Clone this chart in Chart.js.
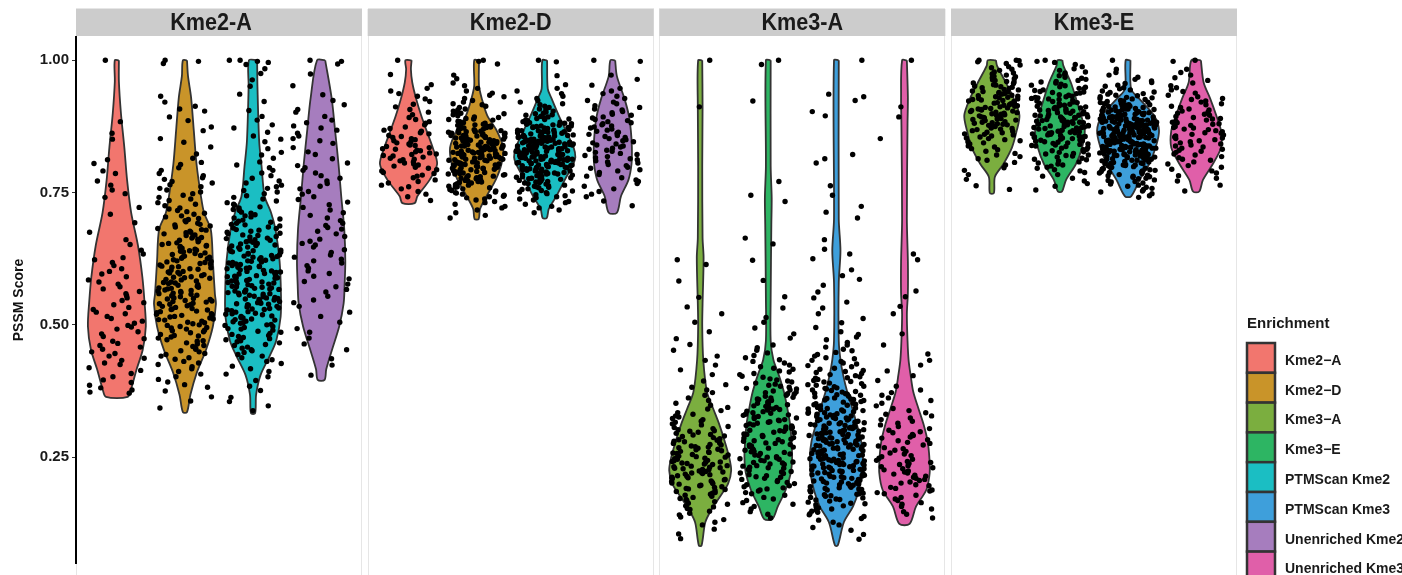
<!DOCTYPE html>
<html>
<head>
<meta charset="utf-8">
<title>PSSM Score by enrichment</title>
<script src="https://cdn.jsdelivr.net/npm/chart.js@4.4.1/dist/chart.umd.min.js"></script>
<style>
  html, body { margin: 0; padding: 0; background: #fff; overflow: hidden; }
  #wrap { width: 1402px; height: 575px; position: relative; }
</style>
</head>
<body>
<div id="wrap"><canvas id="violinChart"></canvas></div>
<script>
// facet panels (PSSM motif) and the enrichment groups shown in each
const panels = ['Kme2-A', 'Kme2-D', 'Kme3-A', 'Kme3-E'];
const enrichment = ['Kme2\u2212A', 'Kme2\u2212D', 'Kme3\u2212A', 'Kme3\u2212E', 'PTMScan Kme2', 'PTMScan Kme3', 'Unenriched Kme2', 'Unenriched Kme3'];
const panelGroups = [[0, 1, 4, 6], [0, 1, 4, 6], [2, 3, 5, 7], [2, 3, 5, 7]];
const yTicks = [0.25, 0.5, 0.75, 1.0];
const yTickLabels = ['0.25', '0.50', '0.75', '1.00'];
const groupColors = ['#F2766E', '#C99429', '#7BAE3F', '#2DB563', '#1BBEC3', '#3E9FDB', '#A67DBE', '#E05FA9'];

// violin outlines: [score, half width in category units]
const d1_kme2A = [[1.00,.03],[.96,.03],[.90,.06],[.835,.11],[.774,.15],[.712,.21],[.65,.31],[.59,.375],[.545,.405],[.497,.425],[.453,.38],[.416,.29],[.379,.21],[.364,.16]];
const d1_kme2D = [[1.00,.03],[.97,.045],[.93,.09],[.867,.13],[.804,.17],[.743,.235],[.712,.28],[.68,.38],[.62,.41],[.558,.44],[.54,.455],[.497,.41],[.453,.31],[.41,.175],[.368,.08],[.335,.03]];
const d1_ptm = [[1.00,.06],[.95,.065],[.847,.09],[.80,.125],[.743,.17],[.712,.265],[.68,.33],[.62,.39],[.558,.41],[.515,.405],[.47,.34],[.44,.24],[.405,.11],[.368,.045],[.333,.03]];
const d1_unenr = [[1.00,.06],[.928,.155],[.867,.205],[.804,.255],[.743,.295],[.68,.34],[.62,.355],[.577,.345],[.54,.33],[.497,.265],[.453,.16],[.416,.075],[.396,.05]];

const d2_kme2A = [[1.00,.045],[.983,.035],[.958,.055],[.928,.11],[.896,.185],[.867,.265],[.835,.355],[.804,.42],[.774,.31],[.743,.13],[.73,.09]];
const d2_kme2D = [[1.00,.035],[.952,.035],[.928,.075],[.896,.155],[.867,.295],[.835,.39],[.804,.365],[.774,.28],[.743,.145],[.719,.05],[.70,.03]];
const d2_ptm = [[1.00,.035],[.946,.045],[.928,.10],[.896,.205],[.867,.31],[.835,.425],[.817,.45],[.804,.42],[.774,.295],[.743,.17],[.719,.06],[.702,.03]];
const d2_unenr = [[1.00,.035],[.97,.06],[.928,.17],[.896,.235],[.867,.265],[.835,.28],[.804,.275],[.774,.23],[.743,.12],[.712,.06]];

const d3_kme3A = [[1.00,.03],[.91,.035],[.80,.03],[.664,.035],[.627,.05],[.54,.035],[.497,.03],[.434,.045],[.373,.10],[.342,.19],[.312,.28],[.28,.36],[.25,.425],[.225,.455],[.20,.41],[.176,.295],[.152,.17],[.127,.075],[.083,.02]];
const d3_kme3E = [[1.00,.035],[.80,.035],[.74,.05],[.69,.045],[.55,.035],[.47,.035],[.434,.075],[.405,.155],[.373,.23],[.342,.28],[.312,.32],[.28,.34],[.25,.35],[.22,.33],[.188,.255],[.157,.14],[.133,.06]];
const d3_ptm = [[1.00,.035],[.70,.035],[.64,.06],[.58,.035],[.47,.035],[.434,.06],[.405,.10],[.373,.16],[.342,.235],[.312,.30],[.28,.365],[.25,.39],[.22,.38],[.188,.33],[.157,.245],[.127,.11],[.083,.02]];
const d3_unenr = [[1.00,.035],[.93,.05],[.88,.045],[.70,.035],[.62,.05],[.56,.05],[.52,.035],[.47,.045],[.434,.06],[.405,.09],[.373,.13],[.342,.205],[.312,.28],[.28,.34],[.25,.365],[.22,.37],[.188,.32],[.157,.17],[.124,.075]];

const d4_kme3A = [[1.00,.06],[.99,.075],[.958,.205],[.928,.32],[.896,.405],[.867,.365],[.835,.295],[.804,.17],[.78,.045],[.749,.03]];
const d4_kme3E = [[1.00,.035],[.99,.05],[.958,.16],[.928,.235],[.896,.31],[.867,.365],[.835,.325],[.804,.235],[.774,.09],[.752,.03]];
const d4_ptm = [[1.00,.035],[.946,.045],[.928,.16],[.896,.38],[.867,.455],[.835,.405],[.804,.31],[.774,.17],[.743,.045]];
const d4_unenr = [[1.00,.07],[.958,.11],[.928,.205],[.896,.295],[.867,.365],[.835,.365],[.804,.245],[.774,.10],[.752,.045]];

// individual peptide scores (score x 1000)
const p1_kme2A = [1000,884,862,851,812,805,791,786,772,764,755,748,741,722,709,693,675,661,652,641,634,627,623,618,612,606,601,596,591,585,581,577,572,568,563,559,555,551,546,542,538,533,529,524,521,516,512,507,503,499,496,492,487,483,478,474,469,465,461,458,454,449,446,441,437,433,428,425,419,414,408,402,396,391,386,381,377,373,371];
const p1_kme2D = [1000,998,994,932,921,913,904,908,893,886,874,867,852,845,836,823,815,803,807,
  792,797,782,786,771,775,778,761,765,768,751,755,758,741,745,748,731,735,738,721,725,728,711,714,716,719,701,704,706,709,
  690,692,695,697,699,680,682,685,687,689,670,672,674,675,677,679,660,662,664,665,667,669,650,652,654,655,657,659,
  640,641,643,645,646,648,649,630,631,633,635,636,638,639,620,621,623,625,626,628,629,610,611,613,615,616,618,619,600,601,603,605,606,608,609,
  590,591,593,595,596,598,599,580,581,583,585,586,588,589,570,571,573,575,576,578,579,560,561,563,564,565,566,568,569,550,551,553,554,555,556,558,559,540,541,543,544,545,546,548,549,
  530,531,533,535,536,538,539,520,521,523,525,526,528,529,510,511,513,515,516,518,519,500,502,504,505,507,509,
  490,492,494,495,497,499,480,482,485,487,489,470,472,475,477,479,461,464,466,469,451,454,456,459,441,444,446,449,431,435,438,421,425,428,412,417,402,407,
  392,397,382,387,375,364,356,343];
const p1_ptm = [1000,1000,998,996,992,984,975,963,951,936,922,905,894,887,872,878,864,851,857,846,833,821,826,815,802,808,
  792,797,782,787,772,777,761,764,768,751,754,758,741,744,748,731,734,738,721,723,726,728,711,713,716,718,700,702,704,706,708,
  690,692,694,696,698,680,682,683,685,687,689,670,672,673,675,677,679,660,661,663,664,666,667,669,650,651,653,654,656,657,659,640,641,643,644,646,647,649,
  630,631,632,634,635,637,638,639,620,621,622,624,625,627,628,629,610,611,612,614,615,617,618,619,600,601,602,603,604,606,607,608,609,
  590,591,592,593,594,596,597,598,599,580,581,582,583,584,586,587,588,589,570,571,572,573,574,576,577,578,579,560,561,562,563,564,566,567,568,569,550,551,552,553,554,556,557,558,559,
  540,541,542,544,545,547,548,549,530,531,532,534,535,537,538,539,520,521,522,524,525,527,528,529,510,511,513,514,516,517,519,500,501,503,504,506,507,509,
  490,492,493,495,497,499,480,482,484,486,488,470,472,474,476,478,461,463,466,468,451,453,456,458,441,444,448,431,434,438,422,427,412,417,402,407,
  395,384,376,363,355,347,338];
const p1_unenr = [1000,998,993,974,952,935,924,916,902,907,894,882,887,872,876,862,868,852,857,843,848,835,822,827,814,801,806,
  792,797,782,787,772,777,762,767,752,757,742,747,732,737,722,727,712,717,702,707,
  692,697,681,684,688,672,677,662,667,651,654,658,642,647,632,637,621,624,628,612,617,602,607,
  592,597,582,587,572,577,562,567,554,542,547,535,524,516,505,493,486,475,464,453,436,424,405];

const p2_kme2A = [1000,973,954,942,947,932,937,922,927,912,917,902,907,892,897,881,884,888,871,874,878,861,863,866,868,850,852,854,856,858,840,842,844,846,848,
  830,832,833,835,837,839,820,822,823,825,827,829,810,812,813,815,817,819,800,802,804,806,808,791,793,796,798,781,783,786,788,771,774,778,761,764,768,752,757,742,747,735];
const p2_kme2D = [1000,998,993,972,965,952,957,942,947,931,934,938,921,924,928,911,913,916,918,900,902,904,906,908,
  890,892,893,895,897,899,880,881,882,884,885,887,888,889,
  870,871,872,873,874,875,876,877,878,879,
  860,861,862,863,864,865,866,867,868,869,862,865,867,
  850,851,852,853,854,855,856,857,858,859,851,853,855,857,858,
  840,841,842,843,844,845,846,847,848,849,841,843,845,846,848,844,
  830,831,832,833,834,835,836,837,838,839,831,832,834,835,837,838,836,
  820,821,822,823,824,825,826,827,828,829,821,823,825,826,828,824,
  810,811,812,813,814,815,816,817,818,819,811,813,815,817,818,
  800,801,802,803,804,805,806,807,808,809,802,804,806,808,
  790,791,792,793,794,795,796,797,798,799,793,796,
  780,781,782,783,784,785,786,787,788,789,785,
  770,771,772,773,774,776,777,778,779,760,761,762,764,765,767,768,769,750,751,753,754,756,757,759,740,742,743,745,747,749,731,733,736,738,721,724,728,712,717,702,707];
const p2_ptm = [1000,997,971,954,942,947,932,937,921,924,928,911,913,916,918,900,902,904,906,908,
  890,891,893,894,896,897,899,880,881,882,883,884,886,887,888,889,
  870,871,872,873,874,875,876,877,878,879,873,876,
  860,861,862,863,864,865,866,867,868,869,861,863,865,867,868,
  850,851,852,853,854,855,856,857,858,859,851,852,853,855,856,857,858,854,
  840,841,842,843,844,845,846,847,848,849,841,842,843,844,845,846,847,848,849,
  830,831,832,833,834,835,836,837,838,839,830,831,832,833,834,835,836,837,838,839,
  820,821,822,823,824,825,826,827,828,829,820,821,822,823,824,825,826,827,828,829,
  810,811,812,813,814,815,816,817,818,819,810,811,812,813,814,815,816,817,818,
  800,801,802,803,804,805,806,807,808,809,801,802,803,805,806,807,808,
  790,791,792,793,794,795,796,797,798,799,791,793,795,797,798,
  780,781,782,783,784,785,786,787,788,789,782,785,787,
  770,771,772,773,774,775,776,777,778,779,775,
  760,761,762,763,764,766,767,768,769,750,751,753,754,756,757,759,740,742,744,746,748,731,733,736,738,721,724,728,712,717];
const p2_unenr = [1000,998,972,964,953,942,947,932,937,921,924,928,911,914,918,901,903,906,908,891,893,896,898,
  880,882,884,886,888,870,872,874,876,878,860,862,864,866,868,850,852,854,856,858,
  840,842,844,846,848,830,832,834,836,838,820,822,824,826,828,810,812,814,816,818,
  801,803,806,808,791,793,796,798,781,784,788,771,774,778,762,767,752,757,742,747,734,725];

const p3_kme3A = [1000,912,623,614,583,552,534,521,505,487,474,463,452,441,433,424,415,406,394,
  382,387,372,377,362,367,352,357,341,344,348,331,334,338,321,323,326,328,311,313,316,318,300,302,304,306,308,
  290,292,293,295,297,299,280,282,283,285,287,289,270,271,273,274,276,277,279,260,261,262,264,265,267,268,269,250,251,252,254,255,257,258,259,
  240,241,242,243,244,246,247,248,249,230,231,232,233,234,236,237,238,239,220,221,222,223,224,226,227,228,229,210,211,212,214,215,217,218,219,200,201,202,204,205,207,208,209,
  190,191,193,194,196,197,199,180,182,183,185,187,189,170,172,174,176,178,161,163,166,168,151,153,156,158,141,144,148,132,137,122,127,114,105,96];
const p3_kme3E = [1000,992,923,771,745,733,664,653,622,584,553,532,514,505,494,483,475,462,
  452,457,442,447,431,434,438,421,424,428,411,413,416,418,401,403,406,408,
  390,392,394,396,398,380,382,384,386,388,370,372,373,375,377,379,360,362,363,365,367,369,350,352,353,355,357,359,
  340,341,343,344,346,347,349,330,331,333,334,336,337,339,320,321,323,324,326,327,329,310,311,313,314,316,317,319,300,301,303,304,306,307,309,
  290,291,293,294,296,297,299,280,281,283,284,286,287,289,270,271,273,274,276,277,279,260,261,263,264,266,267,269,250,251,253,254,256,257,259,
  240,241,243,244,246,247,249,230,231,233,234,236,237,239,
  220,222,223,225,227,229,210,212,213,215,217,219,200,202,204,206,208,190,192,194,196,198,181,183,186,188,171,174,178,161,164,168,152,157,142,147,135];
const p3_ptm = [1000,931,936,924,903,895,822,814,806,763,745,724,713,702,661,643,634,625,604,593,586,575,562,551,543,532,521,512,504,495,
  482,487,472,477,462,467,451,454,458,441,444,448,431,433,436,438,421,423,426,428,410,412,414,416,418,400,402,404,406,408,
  390,392,393,395,397,399,380,381,383,384,386,387,389,370,371,373,374,376,377,379,360,361,362,364,365,367,368,369,350,351,352,354,355,357,358,359,
  340,341,342,343,344,346,347,348,349,330,331,332,333,334,335,336,337,338,339,320,321,322,323,324,325,326,327,328,329,
  310,311,312,313,314,315,316,317,318,319,315,300,301,302,303,304,305,306,307,308,309,305,
  290,291,292,293,294,295,296,297,298,299,293,296,280,281,282,283,284,285,286,287,288,289,283,286,
  270,271,272,273,274,275,276,277,278,279,273,276,260,261,262,263,264,265,266,267,268,269,263,266,
  250,251,252,253,254,255,256,257,258,259,253,256,240,241,242,243,244,245,246,247,248,249,243,246,
  230,231,232,233,234,235,236,237,238,239,233,236,220,221,222,223,224,225,226,227,228,229,225,
  210,211,212,213,214,215,216,217,218,219,215,200,201,202,203,204,205,206,207,208,209,
  190,191,192,193,194,196,197,198,199,180,181,182,184,185,187,188,189,170,171,173,174,176,177,179,160,162,163,165,167,169,
  150,152,154,156,158,141,143,146,148,131,134,138,122,127,112,117,104,95];
const p3_unenr = [1000,912,893,852,634,623,564,553,535,521,483,462,445,433,424,413,404,395,384,
  372,377,362,367,352,357,342,347,331,334,338,321,324,328,311,314,318,301,304,308,
  291,293,296,298,281,283,286,288,271,273,276,278,261,263,266,268,251,253,256,258,
  240,242,244,246,248,230,232,234,236,238,220,222,224,226,228,210,212,214,216,218,
  201,203,206,208,191,193,196,198,181,183,186,188,171,174,178,161,164,168,152,157,142,147,135];

const p4_kme3A = [1000,1000,999,991,994,997,981,983,986,988,970,972,974,976,978,960,962,963,965,967,969,950,951,953,954,956,957,959,
  940,941,942,944,945,947,948,949,930,931,932,933,934,936,937,938,939,
  920,921,922,923,924,925,926,927,928,929,910,911,912,913,914,915,916,917,918,919,
  900,901,902,903,904,905,906,907,908,909,890,891,892,893,894,895,896,897,898,899,
  880,881,882,883,884,886,887,888,889,870,871,872,874,875,877,878,879,860,861,863,864,866,867,869,850,852,853,855,857,859,
  840,842,844,846,848,831,833,836,838,821,824,828,811,814,818,802,807,792,797,784,775,763,756];
const p4_kme3E = [1000,998,992,996,981,984,988,971,973,976,978,960,962,964,966,968,950,952,953,955,957,959,940,941,943,944,946,947,949,
  930,931,932,934,935,937,938,939,920,921,922,923,924,926,927,928,929,910,911,912,913,914,915,916,917,918,919,
  900,901,902,903,904,905,906,907,908,909,905,890,891,892,893,894,895,896,897,898,899,893,896,
  880,881,882,883,884,885,886,887,888,889,883,886,870,871,872,873,874,875,876,877,878,879,873,876,
  860,861,862,863,864,865,866,867,868,869,863,866,850,851,852,853,854,855,856,857,858,859,855,
  840,841,842,843,844,845,846,847,848,849,830,831,832,834,835,837,838,839,820,821,823,824,826,827,829,
  810,812,813,815,817,819,800,802,804,806,808,791,793,796,798,781,784,788,772,777,762,767,755];
const p4_ptm = [1000,983,972,977,961,964,968,951,953,956,958,940,942,944,946,948,930,931,933,934,936,937,939,920,921,922,923,924,926,927,928,929,
  910,911,912,913,914,915,916,917,918,919,913,916,
  900,901,902,903,904,905,906,907,908,909,901,903,905,907,908,
  890,891,892,893,894,895,896,897,898,899,890,891,892,893,894,895,896,897,898,
  880,881,882,883,884,885,886,887,888,889,880,881,882,883,884,885,886,887,888,889,883,886,
  870,871,872,873,874,875,876,877,878,879,870,871,872,873,874,875,876,877,878,879,872,874,876,878,
  860,861,862,863,864,865,866,867,868,869,860,861,862,863,864,865,866,867,868,869,862,864,866,868,
  850,851,852,853,854,855,856,857,858,859,850,851,852,853,854,855,856,857,858,859,853,855,857,
  840,841,842,843,844,845,846,847,848,849,840,841,842,843,844,845,846,847,848,849,845,
  830,831,832,833,834,835,836,837,838,839,830,831,832,833,834,835,836,837,838,
  820,821,822,823,824,825,826,827,828,829,821,822,823,825,826,827,828,
  810,811,812,813,814,815,816,817,818,819,811,813,815,817,818,
  800,801,802,803,804,805,806,807,808,809,802,805,807,
  790,791,792,793,794,795,796,797,798,799,795,
  780,781,782,783,784,786,787,788,789,770,771,773,774,776,777,779,760,762,764,766,768,751,753,756,758,741,744,748];
const p4_unenr = [1000,998,983,972,977,962,967,952,957,941,944,948,931,934,938,921,923,926,928,911,913,916,918,900,902,904,906,908,
  890,892,894,896,898,880,882,883,885,887,889,870,872,873,875,877,879,860,862,863,865,867,869,850,852,853,855,857,859,
  840,842,844,846,848,830,832,834,836,838,821,823,826,828,811,813,816,818,801,804,808,791,794,798,782,787,772,777,764,753];

const panelDensity = [
  [d1_kme2A, d1_kme2D, d1_ptm, d1_unenr],
  [d2_kme2A, d2_kme2D, d2_ptm, d2_unenr],
  [d3_kme3A, d3_kme3E, d3_ptm, d3_unenr],
  [d4_kme3A, d4_kme3E, d4_ptm, d4_unenr]
];
const panelScores = [
  [p1_kme2A, p1_kme2D, p1_ptm, p1_unenr],
  [p2_kme2A, p2_kme2D, p2_ptm, p2_unenr],
  [p3_kme3A, p3_kme3E, p3_ptm, p3_unenr],
  [p4_kme3A, p4_kme3E, p4_ptm, p4_unenr]
];

// each facet spans 4.2 category units on one shared linear x axis
const PANEL_W = 4.2;
const PANEL_GAP = 0.0833;
const JITTER = 0.42;
const FONT = '"Liberation Sans", Arial, sans-serif';
const stripTextShift = [-8, 0, 0, 0];

function panelStart(p) {
    return p * (PANEL_W + PANEL_GAP);
}
function violinCenter(p, j) {
    return panelStart(p) + 0.6 + j;
}
// deterministic horizontal jitter (integer hash of the point index)
function jitter01(n) {
    n = Math.imul(n ^ (n >>> 16), 0x85ebca6b);
    n = Math.imul(n ^ (n >>> 13), 0xc2b2ae35);
    n ^= n >>> 16;
    return (n >>> 0) / 4294967296;
}

const datasets = [];
panels.forEach((name, p) => {
    panelGroups[p].forEach((g, j) => {
        const c = violinCenter(p, j);
        const dens = panelDensity[p][j];
        // right edge top to bottom, then left edge back up
        const outline = dens.map(d => ({ x: c + d[1], y: d[0] }))
            .concat(dens.slice().reverse().map(d => ({ x: c - d[1], y: d[0] })));
        outline.push(outline[0]);
        datasets.push({
            type: 'line',
            label: name + ' ' + enrichment[g],
            data: outline,
            fill: 'shape',
            backgroundColor: groupColors[g],
            borderColor: '#333333',
            borderWidth: 1.8,
            pointRadius: 0,
            tension: 0.3,
            order: 2
        });
        const seed = (p * 4 + j + 1) * 7919;
        const points = panelScores[p][j].map((s, i) => ({
            x: c + (jitter01(seed + i) - 0.5) * 2 * JITTER,
            y: s / 1000
        }));
        datasets.push({
            type: 'scatter',
            data: points,
            pointRadius: 2.7,
            pointBackgroundColor: '#000',
            pointBorderWidth: 0,
            order: 1
        });
    });
});

// panel frames, grey facet strips and the Enrichment legend
const facetPlugin = {
    id: 'facets',
    beforeDraw(chart) {
        const { ctx, chartArea, scales } = chart;
        const x = scales.x;
        ctx.save();
        ctx.fillStyle = '#fff';
        ctx.fillRect(0, 0, chart.width, chart.height);
        panels.forEach((name, p) => {
            const l = x.getPixelForValue(panelStart(p));
            const r = x.getPixelForValue(panelStart(p) + PANEL_W);
            ctx.strokeStyle = '#e6e6e6';
            ctx.lineWidth = 1;
            ctx.strokeRect(Math.round(l) + 0.5, 8.5, Math.round(r - l) - 1, chart.height);
            ctx.fillStyle = '#cccccc';
            ctx.fillRect(l, 9, r - l, chartArea.top - 10);
            ctx.fillStyle = '#1a1a1a';
            ctx.font = 'bold 24px ' + FONT;
            ctx.textAlign = 'center';
            ctx.textBaseline = 'middle';
            ctx.save();
            ctx.translate((l + r) / 2 + stripTextShift[p], 23);
            ctx.scale(0.9, 1);
            ctx.fillText(name, 0, 0);
            ctx.restore();
        });
        ctx.restore();
    },
    afterDraw(chart) {
        const ctx = chart.ctx;
        const left = chart.chartArea.right + 10;
        const top = 343;
        const rowH = 29.8;
        ctx.save();
        ctx.fillStyle = '#1a1a1a';
        ctx.font = 'bold 15px ' + FONT;
        ctx.textAlign = 'left';
        ctx.textBaseline = 'middle';
        ctx.fillText('Enrichment', left, 324);
        enrichment.forEach((label, i) => {
            const y0 = top + i * rowH;
            ctx.fillStyle = groupColors[i];
            ctx.fillRect(left, y0, 28, rowH);
            ctx.strokeStyle = '#333333';
            ctx.lineWidth = 2.5;
            ctx.strokeRect(left, y0, 28, rowH);
            ctx.fillStyle = '#1a1a1a';
            ctx.font = 'bold 14px ' + FONT;
            ctx.fillText(label, left + 38, y0 + rowH / 2 + 3);
        });
        ctx.restore();
    }
};

const ctx = document.getElementById('violinChart');
new Chart(ctx, {
    type: 'scatter',
    data: { datasets: datasets },
    options: {
        responsive: true,
        maintainAspectRatio: false,
        animation: false,
        events: [],
        layout: { padding: { left: 0, right: 165, top: 37, bottom: 0 } },
        scales: {
            x: {
                type: 'linear',
                display: false,
                min: 0,
                max: 4 * PANEL_W + 3 * PANEL_GAP
            },
            y: {
                type: 'linear',
                min: 0.05,
                max: 1.044,
                afterFit(scale) {
                    scale.width = 76;
                },
                afterBuildTicks(scale) {
                    scale.ticks = yTicks.map(v => ({ value: v }));
                },
                ticks: {
                    callback: (value) => {
                        const k = yTicks.findIndex(t => Math.abs(t - value) < 1e-6);
                        return k >= 0 ? yTickLabels[k] : '';
                    },
                    color: '#1a1a1a',
                    padding: 3,
                    font: { family: FONT, size: 15, weight: 'bold' }
                },
                grid: { drawOnChartArea: false, drawTicks: true, tickLength: 4, color: '#333333' },
                border: { display: true, color: '#000', width: 2 },
                title: {
                    display: true,
                    text: 'PSSM Score',
                    color: '#111',
                    padding: { top: 11, bottom: 0 },
                    font: { family: FONT, size: 14, weight: 'bold' }
                }
            }
        },
        plugins: {
            legend: { display: false },
            tooltip: { enabled: false }
        }
    },
    plugins: [facetPlugin]
});
</script>
</body>
</html>
